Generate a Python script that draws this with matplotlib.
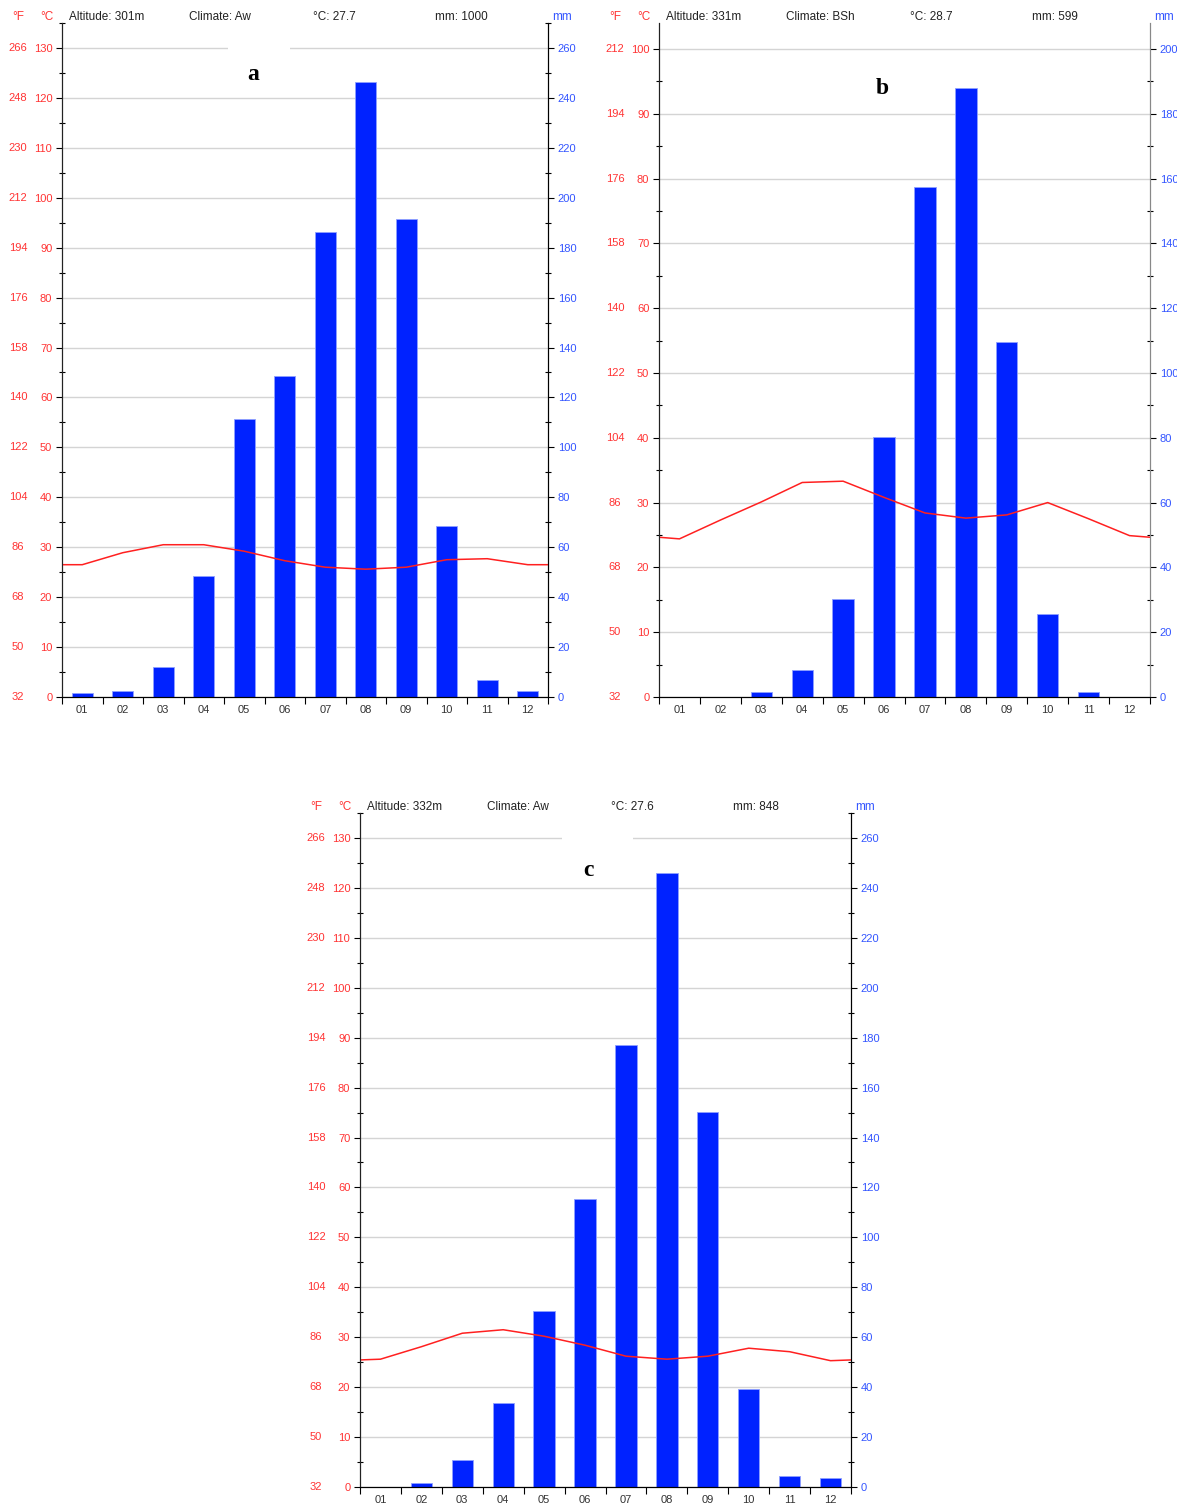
import matplotlib
matplotlib.use("Agg")
import matplotlib.pyplot as plt
from matplotlib.patches import Rectangle
from matplotlib.ticker import MultipleLocator
import numpy as np

W, H = 1177, 1508
plt.rcParams["font.family"] = ["Liberation Sans", "DejaVu Sans"]
FS = 8.5     # header text
TS = 8       # tick labels

MONTHS = ["01", "02", "03", "04", "05", "06", "07", "08", "09", "10", "11", "12"]

TEMP_A = [26.5, 28.9, 30.5, 30.5, 29.2, 27.3, 26.0, 25.6, 26.0, 27.5, 27.7, 26.5]
RAIN_A = [1.5, 2.4, 11.9, 48.5, 111.4, 128.6, 186.3, 246.4, 191.5, 68.5, 6.7, 2.4]
HEAD_A = ["Altitude: 301m", "Climate: Aw", "°C: 27.7", "mm: 1000"]

TEMP_B = [24.4, 27.3, 30.1, 33.1, 33.3, 30.8, 28.4, 27.6, 28.1, 30.0, 27.5, 24.9]
RAIN_B = [0, 0, 1.4, 8.3, 30.2, 80.1, 157.4, 188.0, 109.6, 25.5, 1.4, 0]
HEAD_B = ["Altitude: 331m", "Climate: BSh", "°C: 28.7", "mm: 599"]

TEMP_C = [25.6, 28.1, 30.8, 31.5, 30.2, 28.4, 26.2, 25.6, 26.2, 27.8, 27.1, 25.3]
RAIN_C = [0, 1.5, 10.7, 33.5, 70.4, 115.4, 177.1, 246.0, 150.2, 39.3, 4.5, 3.5]
HEAD_C = ["Altitude: 332m", "Climate: Aw", "°C: 27.6", "mm: 848"]

RED = "#ff3333"
BLUE = "#3355ff"
BAR = "#0022ff"


def frect(x0, y0, x1, y1):
    # pixel box (top-left origin) -> figure fraction rect
    return [x0 / W, 1 - y1 / H, (x1 - x0) / W, (y1 - y0) / H]


def panel(fig, box, temps, rain, head, ctop, label, lab_xy, gap=None, rcol="black"):
    x0, y0, x1, y1 = box
    wpx = x1 - x0
    ax = fig.add_axes(frect(*box))      # rain (right axis), bars
    tx = ax.twinx()                     # temperature (left axis), line on top

    x = np.arange(12) + 0.5
    ax.bar(x, rain, width=0.52, color=BAR, edgecolor="#8fa0ff", linewidth=0.6, zorder=2)
    # wrap Dec/Jan beyond the edges, clipped by the axes
    xs = np.concatenate([[-0.5], x, [12.5]])
    ts = [temps[-1]] + list(temps) + [temps[0]]
    tx.plot(xs, ts, color="#ff2020", lw=1.1)

    ax.set_xlim(0, 12)
    ax.set_ylim(0, 2 * ctop)
    tx.set_ylim(0, ctop)

    ax.yaxis.tick_right()
    tx.yaxis.tick_left()
    ax.set_yticks(range(0, int(2 * ctop) + 1, 20))
    ax.yaxis.set_minor_locator(MultipleLocator(10))
    tx.set_yticks(range(0, int(ctop) + 1, 10))
    tx.yaxis.set_minor_locator(MultipleLocator(5))
    ax.grid(axis="y", color="#d4d4d4", lw=1)
    ax.set_axisbelow(True)

    ax.tick_params(axis="y", which="major", direction="out", length=4, width=0.8,
                   labelsize=TS, labelcolor=BLUE, pad=3, right=True, left=False)
    ax.tick_params(axis="y", which="minor", direction="inout", length=5, width=0.8,
                   right=True, left=False)
    tx.tick_params(axis="y", which="major", direction="out", length=4, width=0.8,
                   labelsize=TS, labelcolor=RED, pad=3)
    tx.tick_params(axis="y", which="minor", direction="inout", length=5, width=0.8)

    ax.set_xticks(range(13))
    ax.set_xticklabels([])
    ax.set_xticks(x, minor=True)
    ax.set_xticklabels(MONTHS, minor=True)
    ax.tick_params(axis="x", which="major", direction="out", length=5, width=0.8)
    ax.tick_params(axis="x", which="minor", length=0, labelsize=TS, labelcolor="#333333", pad=6)

    for a in (ax, tx):
        a.spines["top"].set_visible(False)
        a.spines["right"].set_color(rcol)
    tx.spines["left"].set_color("#222222")

    # Fahrenheit column
    for c in range(0, int(ctop) + 1, 10):
        tx.text(-44 / wpx, c, f"{round(c * 9 / 5 + 32)}", transform=tx.get_yaxis_transform(),
                ha="center", va="center", color=RED, fontsize=TS)

    # header line
    hy = 1 - (y0 - 6) / H
    fig.text((x0 - 44) / W, hy, "°F", color=RED, fontsize=FS, ha="center", va="center")
    fig.text((x0 - 15) / W, hy, "°C", color=RED, fontsize=FS, ha="center", va="center")
    for off, s in zip([7, 127, 251, 373], head):
        fig.text((x0 + off) / W, hy, s, color="#222222", fontsize=FS, ha="left", va="center")
    fig.text((x1 + 14) / W, hy, "mm", color=BLUE, fontsize=FS, ha="center", va="center")

    if gap:
        gx0, gx1, gy0, gy1 = gap
        fig.add_artist(Rectangle((gx0 / W, 1 - gy1 / H), (gx1 - gx0) / W, (gy1 - gy0) / H,
                                 transform=fig.transFigure, facecolor="white",
                                 edgecolor="none", zorder=5))
    fig.text(lab_xy[0] / W, 1 - lab_xy[1] / H, label, fontsize=17, fontweight="bold",
             family=["Liberation Serif", "DejaVu Serif"], ha="center", va="center", zorder=6)


fig = plt.figure(figsize=(W / 100, H / 100), dpi=100)
panel(fig, (62, 23, 548, 697), TEMP_A, RAIN_A, HEAD_A, 135, "a", (253, 75),
      gap=(228, 290, 42, 54))
panel(fig, (659, 23, 1150, 697), TEMP_B, RAIN_B, HEAD_B, 104, "b", (882, 88),
      rcol="#888888")
panel(fig, (360, 813, 851, 1487), TEMP_C, RAIN_C, HEAD_C, 135, "c", (588, 871),
      gap=(562, 633, 832, 844))
fig.savefig("out.png", dpi=100)
